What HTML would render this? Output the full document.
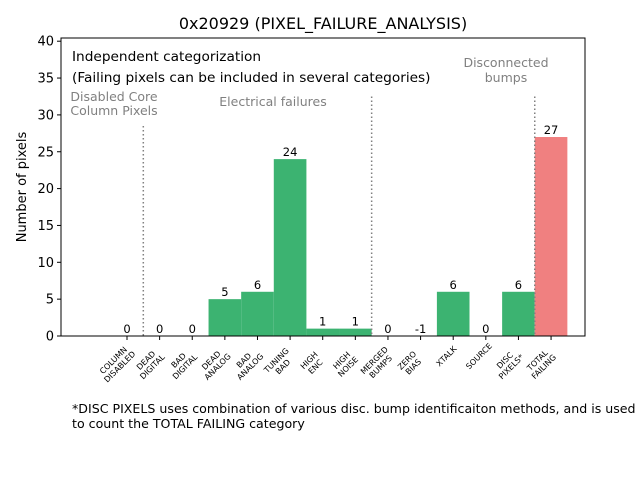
<!DOCTYPE html>
<html><head><meta charset="utf-8"><style>
body{margin:0;background:#fff;font-family:"Liberation Sans","DejaVu Sans",sans-serif}
text{font-family:"DejaVu Sans","Liberation Sans",sans-serif}
</style></head><body>
<svg id="c" width="640" height="480" xmlns="http://www.w3.org/2000/svg">
<rect width="640" height="480" fill="#fff"/>
<text x="323" y="29" font-size="16" text-anchor="middle">0x20929 (PIXEL_FAILURE_ANALYSIS)</text>
<g id="bars"></g><g id="xt"></g><g id="yt"></g>
<rect x="61" y="38" width="524" height="298" fill="none" stroke="#000" stroke-width="1"/>
<text transform="translate(26,187) rotate(-90)" font-size="13" text-anchor="middle">Number of pixels</text>
<text x="72" y="61" font-size="13.7">Independent categorization</text>
<text x="72" y="82" font-size="13.7">(Failing pixels can be included in several categories)</text>
<g fill="#808080" font-size="12.5" text-anchor="middle">
<text x="114" y="101">Disabled Core</text>
<text x="114" y="115">Column Pixels</text>
<text x="273" y="106">Electrical failures</text>
<text x="506" y="67">Disconnected</text>
<text x="506" y="82">bumps</text>
</g>
<text x="72" y="413" font-size="12.6">*DISC PIXELS uses combination of various disc. bump identificaiton methods, and is used</text>
<text x="72" y="428" font-size="12.6">to count the TOTAL FAILING category</text>
</svg>
<script>
const categories=[["COLUMN","DISABLED"],["DEAD","DIGITAL"],["BAD","DIGITAL"],["DEAD","ANALOG"],["BAD","ANALOG"],["TUNING","BAD"],["HIGH","ENC"],["HIGH","NOISE"],["MERGED","BUMPS"],["ZERO","BIAS"],["XTALK"],["SOURCE"],["DISC","PIXELS*"],["TOTAL","FAILING"]];
const values=[0,0,0,5,6,24,1,1,0,-1,6,0,6,27];
const yTicks=[0,5,10,15,20,25,30,35,40];
const dividers=[0.5,7.5,12.5];
const dividerTops=[28.5,32.5,32.5];
const NS="http://www.w3.org/2000/svg";
const X=i=>127+(i)*32.62;
const Y=v=>336-v*7.37;
function mk(t,a,p){const e=document.createElementNS(NS,t);for(const k in a)e.setAttribute(k,a[k]);p.appendChild(e);return e;}
const bars=document.getElementById('bars'),xt=document.getElementById('xt'),yt=document.getElementById('yt');
values.forEach((v,i)=>{
 const h=Math.max(v,0);
 const r=mk('rect',{x:X(i-0.5),y:Y(h),width:32.62,height:Y(0)-Y(h),fill:i===13?'#f08080':'#3cb371'},bars);
 
 
 const t=mk('text',{x:X(i),y:Y(h)-3,'font-size':11.5,'text-anchor':'middle'},bars);
 t.textContent=v;
 
 
 mk('line',{x1:X(i),x2:X(i),y1:336,y2:340,stroke:'#000'},xt);
 const two=categories[i].length===2;
 const g=mk('text',{transform:two?`translate(${X(i)-11},363) rotate(-45)`:`translate(${X(i)-7},356) rotate(-45)`,'font-size':8,'text-anchor':'middle'},xt);
 
 
 categories[i].forEach((s,k)=>{const ts=mk('tspan',{x:0,y:two?(k===0?-1:8):3},g);ts.textContent=s;});
});
dividers.forEach((d,k)=>{
 const l=mk('line',{x1:X(d),x2:X(d),y1:Y(dividerTops[k]),y2:336,stroke:'#808080','stroke-width':1.5,'stroke-dasharray':'1.5,2.5'},bars);
 
 
});
yTicks.forEach(v=>{
 mk('line',{x1:57,x2:61,y1:Y(v),y2:Y(v),stroke:'#000'},yt);
 const t=mk('text',{x:54,y:Y(v)+4.5,'font-size':13,'text-anchor':'end'},yt);
 t.textContent=v;
 
 
});
</script>
</body></html>
